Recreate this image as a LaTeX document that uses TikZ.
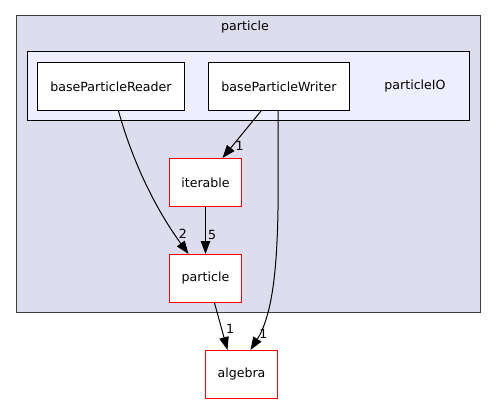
\documentclass[tikz,border=0pt]{standalone}
\usepackage{fontspec}
\setmainfont{DejaVu Sans}
\usetikzlibrary{arrows.meta}
\definecolor{outerfill}{HTML}{DDDDEE}
\definecolor{innerfill}{HTML}{EEEEFF}
\definecolor{outerline}{HTML}{404040}
\begin{document}
\begin{tikzpicture}[x=1pt,y=-1pt,
  font=\fontsize{12.6}{15}\selectfont,
  dirbox/.style={draw=black,fill=white,line width=1pt,minimum height=48pt,inner sep=0pt,anchor=north west},
  redbox/.style={draw=red,fill=white,line width=1pt,minimum width=72pt,minimum height=48pt,inner sep=0pt,anchor=north west},
  dep/.style={line width=1pt,-{Triangle[length=13pt,width=9.5pt]}},
  lbl/.style={inner sep=1pt}]
\useasboundingbox (0,0) rectangle (496,404);
\fill[white] (0,0) rectangle (496,404);
% outer cluster
\draw[fill=outerfill,draw=outerline,line width=1pt] (16,16) rectangle (480,312);
\node (ptitle) at (245,27) {particle};
% inner cluster
\draw[fill=innerfill,draw=black,line width=1pt] (27,52) rectangle (469,121);
\node (piotitle) at (415,86) {particleIO};
% nodes
\node[dirbox,minimum width=147pt] (reader) at (37,62) {baseParticleReader};
\node[dirbox,minimum width=141pt] (writer) at (208,62) {baseParticleWriter};
\node[redbox] (iterable) at (169,158) {iterable};
\node[redbox] (particle) at (169,254) {particle};
\node[redbox] (algebra) at (205,350) {algebra};
% edges
\draw[dep] ([xshift=-18pt]writer.south) -- ([xshift=17pt]iterable.north)
  node[lbl,pos=0.75,right,xshift=2pt] {1};
\draw[dep] (iterable.south) -- (particle.north)
  node[lbl,pos=0.6,right,xshift=1pt] {5};
\draw[dep] ([xshift=7.5pt]reader.south) .. controls (135,170) and (160,215) .. ([xshift=-17pt]particle.north)
  node[lbl,pos=0.83,right,xshift=3pt] {2};
\draw[dep] ([xshift=-1pt]writer.south) .. controls (278,200) and (282,300) .. ([xshift=9pt]algebra.north)
  node[lbl,pos=0.9,right,xshift=-1pt] {1};
\draw[dep] ([xshift=9pt]particle.south) -- ([xshift=-14pt]algebra.north)
  node[lbl,pos=0.55,right,xshift=3pt] {1};
\end{tikzpicture}
\end{document}
